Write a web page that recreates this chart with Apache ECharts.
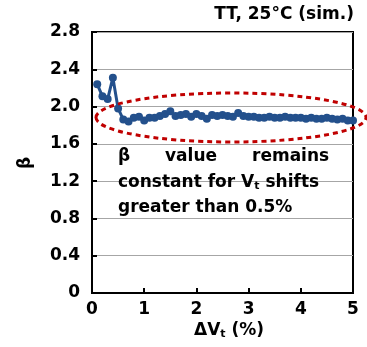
<!DOCTYPE html>
<html>
<head>
<meta charset="utf-8">
<script src="https://cdn.jsdelivr.net/npm/echarts@6/dist/echarts.min.js"></script>
<style>
html,body{margin:0;padding:0;background:#fff;}
#c{width:367px;height:347px;}
</style>
</head>
<body>
<div id="c"></div>
<script>
const xValues = [0.1,0.2,0.3,0.4,0.5,0.6,0.7,0.8,0.9,1.0,
  1.1,1.2,1.3,1.4,1.5,1.6,1.7,1.8,1.9,2.0,
  2.1,2.2,2.3,2.4,2.5,2.6,2.7,2.8,2.9,3.0,
  3.1,3.2,3.3,3.4,3.5,3.6,3.7,3.8,3.9,4.0,
  4.1,4.2,4.3,4.4,4.5,4.6,4.7,4.8,4.9,5.0];
const betaValues = [2.24,2.11,2.08,2.31,1.98,1.86,1.84,1.88,1.89,1.85,
  1.88,1.88,1.90,1.92,1.95,1.90,1.91,1.92,1.89,1.92,
  1.90,1.87,1.91,1.90,1.91,1.90,1.89,1.93,1.90,1.89,
  1.89,1.88,1.88,1.89,1.88,1.88,1.89,1.88,1.88,1.88,
  1.87,1.88,1.87,1.87,1.88,1.87,1.86,1.87,1.85,1.85];
const titleText = 'TT, 25°C (sim.)';
const yName = 'β';

const FONT = '"DejaVu Sans", sans-serif';
const chart = echarts.init(document.getElementById('c'), null, {renderer:'canvas'});
const seriesData = xValues.map((x,i)=>[x, betaValues[i]]);
const BLUE = '#23508C';

chart.setOption({
  animation:false,
  backgroundColor:'#fff',
  grid:{left:92,right:14,top:32,bottom:54,show:true,borderColor:'#000',borderWidth:2,backgroundColor:'transparent'},
  xAxis:{type:'value',min:0,max:5,interval:1,
    axisLine:{show:true,onZero:false,lineStyle:{color:'#000',width:2}},
    axisTick:{show:true,inside:true,length:5,lineStyle:{color:'#000',width:2}},
    splitLine:{show:false},
    axisLabel:{color:'#000',fontFamily:FONT,fontWeight:'bold',fontSize:17,margin:8}
  },
  yAxis:{type:'value',min:0,max:2.8,interval:0.4,
    axisLine:{show:true,lineStyle:{color:'#000',width:2}},
    axisTick:{show:true,inside:true,length:5,lineStyle:{color:'#000',width:2}},
    splitLine:{show:true,lineStyle:{color:'#a6a6a6',width:1}},
    axisLabel:{color:'#000',fontFamily:FONT,fontWeight:'bold',fontSize:17,margin:12,
      formatter:v=> v===0 ? '0' : v.toFixed(1)}
  },
  series:[{type:'line',data:seriesData,symbol:'circle',symbolSize:8,
    lineStyle:{color:BLUE,width:3},itemStyle:{color:BLUE},z:3}],
  graphic:[
    {type:'text',style:{x:354,y:15,text:titleText,font:'bold 17px '+FONT,fill:'#000',align:'right',verticalAlign:'middle'},z:10},
    {type:'text',x:26,y:163,rotation:Math.PI/2,style:{x:0,y:0,text:yName,font:'bold 17px '+FONT,fill:'#000',align:'center',verticalAlign:'middle'},z:10},
    {type:'text',style:{x:229,y:331,text:'{a|ΔV}{s|t}{a| (%)}',align:'center',verticalAlign:'middle',
      rich:{a:{font:'bold 17px '+FONT,fill:'#000'},s:{font:'bold 11px '+FONT,fill:'#000',padding:[7,0,0,0]}}},z:10},
    {type:'text',style:{x:118,y:157,text:'β',font:'bold 17px '+FONT,fill:'#000',verticalAlign:'middle'},z:10},
    {type:'text',style:{x:165,y:157,text:'value',font:'bold 17px '+FONT,fill:'#000',verticalAlign:'middle'},z:10},
    {type:'text',style:{x:252,y:157,text:'remains',font:'bold 17px '+FONT,fill:'#000',verticalAlign:'middle'},z:10},
    {type:'text',style:{x:118,y:183,text:'{a|constant for V}{s|t}{a| shifts}',verticalAlign:'middle',
      rich:{a:{font:'bold 17px '+FONT,fill:'#000'},s:{font:'bold 11px '+FONT,fill:'#000',padding:[7,0,0,0]}}},z:10},
    {type:'text',style:{x:118,y:208,text:'greater than 0.5%',font:'bold 17px '+FONT,fill:'#000',verticalAlign:'middle'},z:10},
    {type:'ellipse',shape:{cx:231,cy:117.5,rx:135,ry:24.5},style:{fill:'none',stroke:'#C00000',lineWidth:3,lineDash:[5,4]},z:20}
  ]
});
</script>
</body>
</html>
